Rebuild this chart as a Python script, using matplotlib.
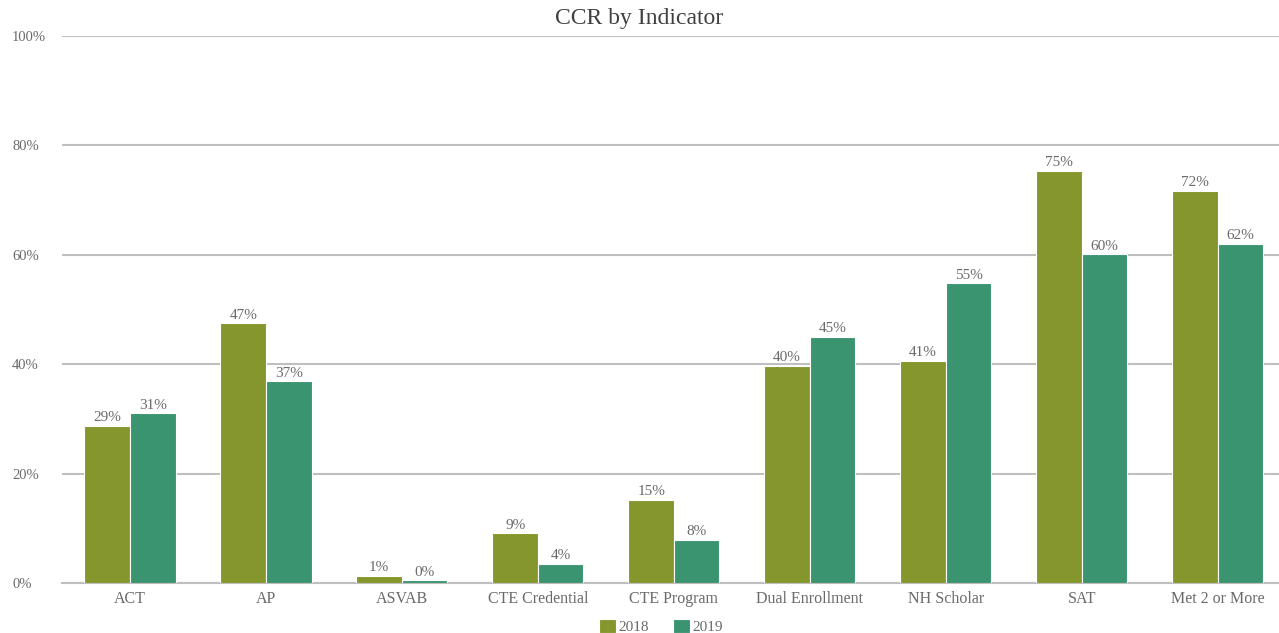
import numpy as np
import matplotlib.pyplot as plt

categories = ['ACT', 'AP', 'ASVAB', 'CTE Credential', 'CTE Program',
              'Dual Enrollment', 'NH Scholar', 'SAT', 'Met 2 or More']
vals_2018 = [28.7, 47.5, 1.3, 9.1, 15.2, 39.7, 40.6, 75.3, 71.7]
vals_2019 = [31.0, 36.9, 0.5, 3.5, 7.9, 45.0, 54.8, 60.1, 62.0]
labels_2018 = ['29%', '47%', '1%', '9%', '15%', '40%', '41%', '75%', '72%']
labels_2019 = ['31%', '37%', '0%', '4%', '8%', '45%', '55%', '60%', '62%']

plt.rcParams['font.family'] = ['Liberation Serif', 'DejaVu Serif']
grey = '#6a6a6a'

fig = plt.figure(figsize=(12.79, 6.33), dpi=100)
ax = fig.add_axes([62/1279, 50/633, (1279-62)/1279, 547/633])

x = np.arange(len(categories))
w = 0.335
b1 = ax.bar(x - w/2, vals_2018, w, color='#84962c', edgecolor='white', linewidth=0.8, label='2018', zorder=3)
b2 = ax.bar(x + w/2, vals_2019, w, color='#3b9470', edgecolor='white', linewidth=0.8, label='2019', zorder=3)

for bars, labs in ((b1, labels_2018), (b2, labels_2019)):
    for r, lab in zip(bars, labs):
        ax.text(r.get_x() + r.get_width()/2, r.get_height() + 0.3, lab,
                ha='center', va='bottom', fontsize=11, color=grey)

ax.set_ylim(0, 100)
ax.set_xlim(-0.5, 8.45)
ax.set_yticks(range(0, 101, 20))
ax.set_yticklabels([f'{v}%' for v in range(0, 101, 20)])
ax.set_xticks(x)
ax.set_xticklabels(categories)
ax.tick_params(length=0, colors=grey)
ax.tick_params(axis='x', labelsize=11.5, pad=6)
ax.tick_params(axis='y', labelsize=10.5, pad=36)
for t in ax.get_yticklabels():
    t.set_horizontalalignment('left')
ax.grid(axis='y', color='#bfbfbf', linewidth=1.5, zorder=0)
for s in ['top', 'right', 'left']:
    ax.spines[s].set_visible(False)
ax.spines['bottom'].set_color('#bfbfbf')
ax.spines['bottom'].set_linewidth(1.5)

fig.text(0.5, 0.97, 'CCR by Indicator', ha='center', va='center', fontsize=17,
         color='#404040')
fig.legend(loc='center', bbox_to_anchor=(0.517, 0.01), ncol=2, frameon=False,
           fontsize=11, handlelength=1.1, handleheight=1.0, columnspacing=1.6,
           handletextpad=0.15, labelcolor=grey)

fig.savefig('out.png', dpi=100)
